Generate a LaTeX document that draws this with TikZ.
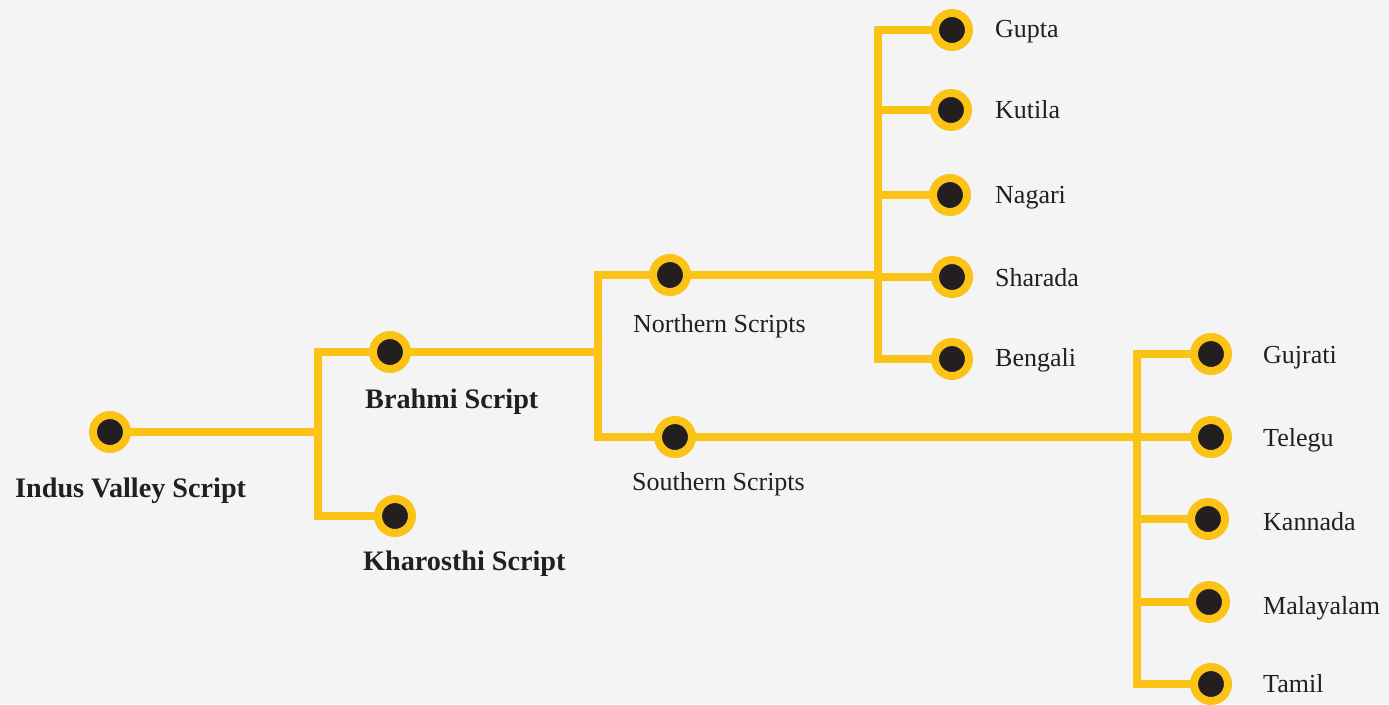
\documentclass[tikz,border=0pt]{standalone}
\usepackage{fontspec}
\setmainfont{Liberation Serif}
\usetikzlibrary{backgrounds}
\definecolor{bgc}{HTML}{F4F4F4}
\definecolor{gold}{HTML}{FBC315}
\definecolor{ink}{HTML}{231F20}
\tikzset{
  dot/.style={circle, fill=ink, draw=gold, line width=8pt, minimum size=34pt, inner sep=0pt},
  conn/.style={draw=gold, line width=8.5pt},
  lbl/.style={anchor=base west, inner sep=0pt, text=ink, font=\fontsize{26}{30}\selectfont},
  blbl/.style={anchor=base west, inner sep=0pt, text=ink, font=\fontsize{28.2}{32}\selectfont\bfseries},
}
\begin{document}
\begin{tikzpicture}[x=1pt,y=-1pt]
\useasboundingbox (0,0) rectangle (1389,704);
% dots
\node[dot] (indus) at (110,432) {};
\node[dot] (brahmi) at (390,352) {};
\node[dot] (khar) at (395,516) {};
\node[dot] (north) at (670,275) {};
\node[dot] (south) at (675,437) {};
\node[dot] (gupta) at (952,30) {};
\node[dot] (kutila) at (951,110) {};
\node[dot] (nagari) at (950,195) {};
\node[dot] (sharada) at (952,277) {};
\node[dot] (bengali) at (952,359) {};
\node[dot] (gujrati) at (1211,354) {};
\node[dot] (telegu) at (1211,437) {};
\node[dot] (kannada) at (1208,519) {};
\node[dot] (malayalam) at (1209,602) {};
\node[dot] (tamil) at (1211,684) {};
% junctions
\coordinate (j1) at (318,432);
\coordinate (j2) at (598,352);
\coordinate (j3) at (878,275);
\coordinate (j4) at (1137,437);
% connectors
\begin{scope}[on background layer]
\fill[bgc] (0,0) rectangle (1389,704);
\draw[conn] (indus.center) -- (j1);
\draw[conn] (brahmi.center) -| (j1) |- (khar.center);
\draw[conn] (brahmi.center) -- (j2);
\draw[conn] (north.center) -| (j2) |- (south.center);
\draw[conn] (north.center) -- (j3);
\draw[conn] (gupta.center) -| (j3) |- (bengali.center);
\draw[conn] (kutila.center) -- (kutila.center -| j3);
\draw[conn] (nagari.center) -- (nagari.center -| j3);
\draw[conn] (sharada.center) -- (sharada.center -| j3);
\draw[conn] (south.center) -- (j4);
\draw[conn] (gujrati.center) -| (j4) |- (tamil.center);
\draw[conn] (telegu.center) -- (j4);
\draw[conn] (kannada.center) -- (kannada.center -| j4);
\draw[conn] (malayalam.center) -- (malayalam.center -| j4);
\end{scope}
% labels
\node[blbl] (lindus) at (15,497) {Indus Valley Script};
\node[blbl] (lbrahmi) at (365,408) {Brahmi Script};
\node[blbl] (lkhar) at (363,570) {Kharosthi Script};
\node[lbl] (lnorth) at (633,332) {Northern Scripts};
\node[lbl] (lsouth) at (632,490) {Southern Scripts};
\node[lbl] (lgupta) at (995,37) {Gupta};
\node[lbl] (lkutila) at (995,118) {Kutila};
\node[lbl] (lnagari) at (995,203) {Nagari};
\node[lbl] (lsharada) at (995,286) {Sharada};
\node[lbl] (lbengali) at (995,366) {Bengali};
\node[lbl] (lgujrati) at (1263,363) {Gujrati};
\node[lbl] (ltelegu) at (1263,446) {Telegu};
\node[lbl] (lkannada) at (1263,530) {Kannada};
\node[lbl] (lmalayalam) at (1263,614) {Malayalam};
\node[lbl] (ltamil) at (1263,692) {Tamil};
\end{tikzpicture}
\end{document}
